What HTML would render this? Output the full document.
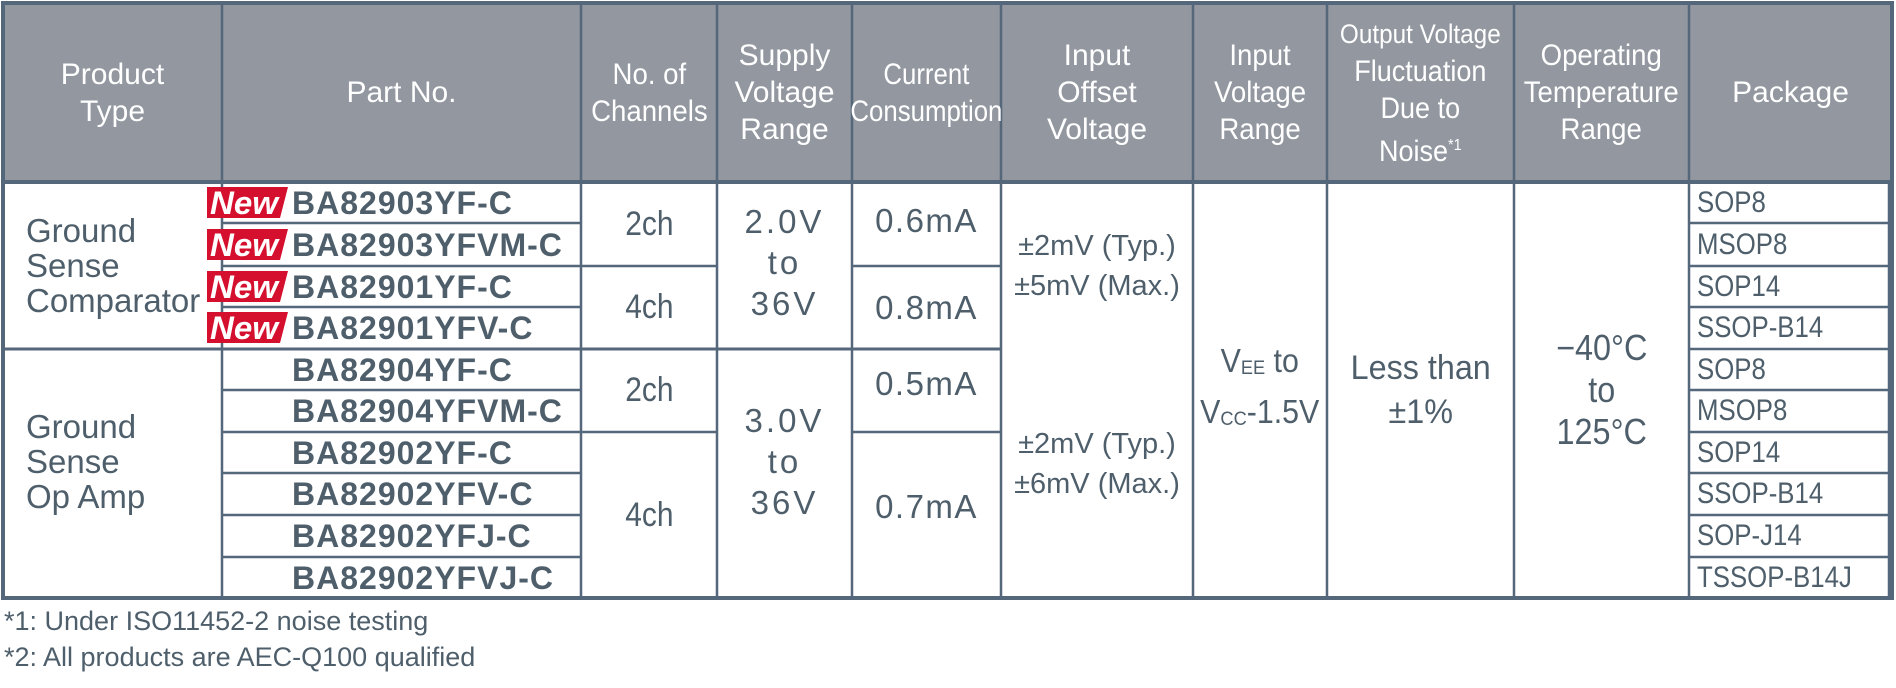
<!DOCTYPE html>
<html><head><meta charset="utf-8"><style>
*{margin:0;padding:0;box-sizing:border-box}
body{width:1896px;height:688px;background:#fff;position:relative;overflow:hidden;font-family:"Liberation Sans",Arial,sans-serif;color:#4e5f6b}
svg{position:absolute;left:0;top:0}
.c{position:absolute;display:flex;align-items:center;justify-content:center;text-align:center}
.c>span{display:inline-block;white-space:nowrap}
.h{color:#fff;font-size:30px;line-height:37px}
.b{font-size:32px}
.l{justify-content:flex-start;text-align:left}
.l>span{text-align:left}
.p{font-weight:bold;font-size:32px;left:292px;width:289px;height:42px;letter-spacing:1px}
.pk{left:1697px;width:190px;height:42px;font-size:30px;justify-content:flex-start}
.pk span{transform:scaleX(0.86);transform-origin:left center}
.nw{position:absolute;left:207px;width:81px;height:31px}
.fn{position:absolute;left:4px;font-size:27px;white-space:nowrap}
.w{letter-spacing:3px}
sub{font-size:0.6em;vertical-align:-2px}
</style></head><body>
<svg width="1896" height="688">
<rect x="3" y="3" width="1889" height="179" fill="#9297a0"/>
<g stroke="#55677a" fill="none">
<rect x="3" y="3" width="1889" height="595" stroke-width="4"/>
<line x1="3" y1="182" x2="1892" y2="182" stroke-width="4"/>
<g stroke-width="2.5">
<line x1="222" y1="3" x2="222" y2="598"/>
<line x1="581" y1="3" x2="581" y2="598"/>
<line x1="717" y1="3" x2="717" y2="598"/>
<line x1="852" y1="3" x2="852" y2="598"/>
<line x1="1001" y1="3" x2="1001" y2="598"/>
<line x1="1193" y1="3" x2="1193" y2="598"/>
<line x1="1327" y1="3" x2="1327" y2="598"/>
<line x1="1514" y1="3" x2="1514" y2="598"/>
<line x1="1689" y1="3" x2="1689" y2="598"/>
<line x1="1889" y1="182" x2="1889" y2="598"/>
<line x1="3" y1="349" x2="1001" y2="349" stroke-width="3"/>
<line x1="1689" y1="349" x2="1892" y2="349"/>
<path d="M222 223H581M222 266H581M222 307H581M222 390H581M222 432H581M222 473H581M222 515H581M222 557H581"/>
<path d="M1689 223H1892M1689 266H1892M1689 307H1892M1689 390H1892M1689 432H1892M1689 473H1892M1689 515H1892M1689 557H1892"/>
<path d="M581 266H717M581 432H717M852 266H1001M852 432H1001"/>
</g></g>
</svg>

<div class="c h" style="left:3px;top:3px;width:219px;height:179px"><span>Product<br>Type</span></div>
<div class="c h" style="left:222px;top:3px;width:359px;height:179px"><span>Part No.</span></div>
<div class="c h" style="left:581px;top:3px;width:136px;height:179px"><span style="transform:scaleX(0.92)">No. of<br>Channels</span></div>
<div class="c h" style="left:717px;top:3px;width:135px;height:179px"><span>Supply<br>Voltage<br>Range</span></div>
<div class="c h" style="left:852px;top:3px;width:149px;height:179px"><span style="transform:scaleX(0.86)">Current<br>Consumption</span></div>
<div class="c h" style="left:1001px;top:3px;width:192px;height:179px"><span>Input<br>Offset<br>Voltage</span></div>
<div class="c h" style="left:1193px;top:3px;width:134px;height:179px"><span style="transform:scaleX(0.92)">Input<br>Voltage<br>Range</span></div>
<div class="c h" style="left:1327px;top:3px;width:187px;height:179px"><span style="transform:scaleX(0.9)"><span style="font-size:27px">Output Voltage</span><br>Fluctuation<br>Due to<br>Noise<sup style="font-size:16px">*1</sup></span></div>
<div class="c h" style="left:1514px;top:3px;width:175px;height:179px"><span style="transform:scaleX(0.92)">Operating<br>Temperature<br>Range</span></div>
<div class="c h" style="left:1689px;top:3px;width:203px;height:179px"><span>Package</span></div>

<div class="c b l" style="left:26px;top:182px;width:190px;height:167px;line-height:35px;font-size:33px"><span>Ground<br>Sense<br>Comparator</span></div>
<div class="c b l" style="left:26px;top:349px;width:190px;height:225px;line-height:35px;font-size:33px"><span>Ground<br>Sense<br>Op Amp</span></div>

<svg class="nw" style="top:187px" viewBox="0 0 81 31"><polygon points="0,0 81,0 73,31 0,31" fill="#d5102e"/><text x="3" y="27" font-family="Liberation Sans" font-weight="bold" font-style="italic" font-size="32" textLength="68" lengthAdjust="spacingAndGlyphs" fill="#fff">New</text></svg>
<svg class="nw" style="top:229px" viewBox="0 0 81 31"><polygon points="0,0 81,0 73,31 0,31" fill="#d5102e"/><text x="3" y="27" font-family="Liberation Sans" font-weight="bold" font-style="italic" font-size="32" textLength="68" lengthAdjust="spacingAndGlyphs" fill="#fff">New</text></svg>
<svg class="nw" style="top:271px" viewBox="0 0 81 31"><polygon points="0,0 81,0 73,31 0,31" fill="#d5102e"/><text x="3" y="27" font-family="Liberation Sans" font-weight="bold" font-style="italic" font-size="32" textLength="68" lengthAdjust="spacingAndGlyphs" fill="#fff">New</text></svg>
<svg class="nw" style="top:312px" viewBox="0 0 81 31"><polygon points="0,0 81,0 73,31 0,31" fill="#d5102e"/><text x="3" y="27" font-family="Liberation Sans" font-weight="bold" font-style="italic" font-size="32" textLength="68" lengthAdjust="spacingAndGlyphs" fill="#fff">New</text></svg>

<div class="c l p" style="top:182px"><span>BA82903YF-C</span></div>
<div class="c l p" style="top:224px"><span>BA82903YFVM-C</span></div>
<div class="c l p" style="top:266px"><span>BA82901YF-C</span></div>
<div class="c l p" style="top:307px"><span>BA82901YFV-C</span></div>
<div class="c l p" style="top:349px"><span>BA82904YF-C</span></div>
<div class="c l p" style="top:390px"><span>BA82904YFVM-C</span></div>
<div class="c l p" style="top:432px"><span>BA82902YF-C</span></div>
<div class="c l p" style="top:473px"><span>BA82902YFV-C</span></div>
<div class="c l p" style="top:515px"><span>BA82902YFJ-C</span></div>
<div class="c l p" style="top:557px"><span>BA82902YFVJ-C</span></div>

<div class="c b" style="left:581px;top:182px;width:136px;height:84px;font-size:34px"><span style="transform:scaleX(0.88)">2ch</span></div>
<div class="c b" style="left:581px;top:266px;width:136px;height:83px;font-size:34px"><span style="transform:scaleX(0.88)">4ch</span></div>
<div class="c b" style="left:581px;top:349px;width:136px;height:83px;font-size:34px"><span style="transform:scaleX(0.88)">2ch</span></div>
<div class="c b" style="left:581px;top:432px;width:136px;height:166px;font-size:34px"><span style="transform:scaleX(0.88)">4ch</span></div>

<div class="c b w" style="left:717px;top:182px;width:135px;height:161px;line-height:41px;font-size:33px"><span>2.0V<br>to<br>36V</span></div>
<div class="c b w" style="left:717px;top:349px;width:135px;height:225px;line-height:41px;font-size:33px"><span>3.0V<br>to<br>36V</span></div>

<div class="c b" style="left:852px;top:182px;width:149px;height:78px;font-size:33px;letter-spacing:1.5px"><span>0.6mA</span></div>
<div class="c b" style="left:852px;top:266px;width:149px;height:83px;font-size:33px;letter-spacing:1.5px"><span>0.8mA</span></div>
<div class="c b" style="left:852px;top:349px;width:149px;height:70px;font-size:33px;letter-spacing:1.5px"><span>0.5mA</span></div>
<div class="c b" style="left:852px;top:432px;width:149px;height:150px;font-size:33px;letter-spacing:1.5px"><span>0.7mA</span></div>

<div class="c b" style="left:1001px;top:182px;width:192px;height:167px;line-height:40px;font-size:29px"><span>±2mV (Typ.)<br>±5mV (Max.)</span></div>
<div class="c b" style="left:1001px;top:349px;width:192px;height:230px;line-height:40px;font-size:29px"><span>±2mV (Typ.)<br>±6mV (Max.)</span></div>

<div class="c b" style="left:1193px;top:182px;width:134px;height:416px;line-height:44px;font-size:33px"><span style="transform:scaleX(0.92)">V<sub>EE</sub> to<br>V<sub>CC</sub>-1.5V</span></div>
<div class="c b" style="left:1327px;top:182px;width:187px;height:416px;line-height:44px;font-size:34px"><span style="transform:scaleX(0.95)">Less than<br>±1%</span></div>
<div class="c b" style="left:1514px;top:182px;width:175px;height:416px;line-height:42px;font-size:36px"><span style="transform:scaleX(0.9)">−40°C<br>to<br>125°C</span></div>

<div class="c pk" style="top:182px"><span>SOP8</span></div>
<div class="c pk" style="top:224px"><span>MSOP8</span></div>
<div class="c pk" style="top:266px"><span>SOP14</span></div>
<div class="c pk" style="top:307px"><span>SSOP-B14</span></div>
<div class="c pk" style="top:349px"><span>SOP8</span></div>
<div class="c pk" style="top:390px"><span>MSOP8</span></div>
<div class="c pk" style="top:432px"><span>SOP14</span></div>
<div class="c pk" style="top:473px"><span>SSOP-B14</span></div>
<div class="c pk" style="top:515px"><span>SOP-J14</span></div>
<div class="c pk" style="top:557px"><span>TSSOP-B14J</span></div>

<div class="fn" style="top:606px">*1: Under ISO11452-2 noise testing</div>
<div class="fn" style="top:642px">*2: All products are AEC-Q100 qualified</div>
</body></html>
